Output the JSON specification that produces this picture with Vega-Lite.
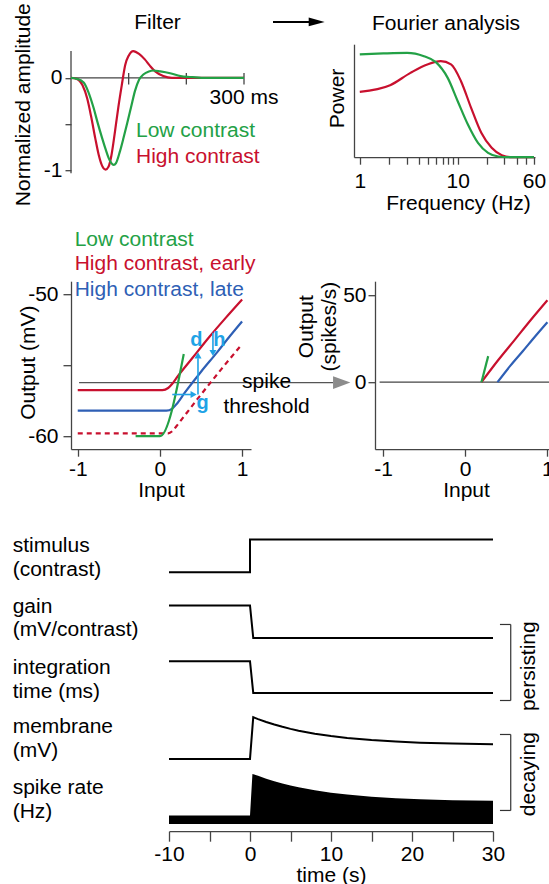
{
"$schema": "https://vega.github.io/schema/vega-lite/v6.json",
"background": "white",
"autosize": {"type": "pad"},
"padding": {"left": 12, "top": 2.2, "right": 0, "bottom": 0},
"bounds": "flush",
"spacing": 487,
"config": {
  "view": {"stroke": null},
  "font": "Liberation Sans",
  "axis": {"labelFont": "Liberation Sans", "titleFont": "Liberation Sans", "labelFontSize": 21, "titleFontSize": 21, "labelColor": "#000", "titleColor": "#000", "titleFontWeight": "normal", "domainColor": "#444", "tickColor": "#444", "domainWidth": 1.3, "tickWidth": 1.3, "grid": false, "labelFlush": false},
  "text": {"font": "Liberation Sans", "fontSize": 21, "color": "#000"},
  "line": {"strokeWidth": 2.2}
},
"vconcat": [
 {"bounds": "flush", "spacing": 237, "vconcat": [
  {"bounds": "flush", "spacing": 110, "hconcat": [
   {"width": 173, "height": 129, "layer": [
    {"data": {"values": [{}]}, "mark": {"type": "rule", "color": "#444", "strokeWidth": 1.3},
     "encoding": {"x": {"datum": 0, "type": "quantitative", "axis": null}, "x2": {"datum": 300}, "y": {"datum": 0, "type": "quantitative"}}},
    {"data": {"values": [{"t": 100}, {"t": 200}, {"t": 300}]}, "mark": {"type": "rule", "color": "#444", "strokeWidth": 1.3},
     "encoding": {"x": {"field": "t", "type": "quantitative", "axis": null}, "y": {"datum": 0.054, "type": "quantitative"}, "y2": {"datum": -0.071}}},
    {"data": {"values": [{}]}, "mark": {"type": "rule", "color": "#444", "strokeWidth": 1.3},
     "encoding": {"x": {"datum": 0, "type": "quantitative", "axis": null}, "y": {"datum": 0.29, "type": "quantitative"}, "y2": {"datum": -1.029}}},
    {"data": {"values": [
      {"t": 0, "amp": 0, "contrast": "High contrast"}, {"t": 10, "amp": -0.01, "contrast": "High contrast"}, {"t": 20, "amp": -0.08, "contrast": "High contrast"}, {"t": 28, "amp": -0.22, "contrast": "High contrast"}, {"t": 35, "amp": -0.42, "contrast": "High contrast"}, {"t": 42, "amp": -0.65, "contrast": "High contrast"}, {"t": 48, "amp": -0.83, "contrast": "High contrast"}, {"t": 54, "amp": -0.95, "contrast": "High contrast"}, {"t": 60, "amp": -0.99, "contrast": "High contrast"}, {"t": 65, "amp": -0.96, "contrast": "High contrast"}, {"t": 70, "amp": -0.84, "contrast": "High contrast"}, {"t": 74, "amp": -0.68, "contrast": "High contrast"}, {"t": 78, "amp": -0.5, "contrast": "High contrast"}, {"t": 82, "amp": -0.32, "contrast": "High contrast"}, {"t": 88, "amp": -0.08, "contrast": "High contrast"}, {"t": 94, "amp": 0.14, "contrast": "High contrast"}, {"t": 100, "amp": 0.24, "contrast": "High contrast"}, {"t": 108, "amp": 0.29, "contrast": "High contrast"}, {"t": 118, "amp": 0.26, "contrast": "High contrast"}, {"t": 128, "amp": 0.2, "contrast": "High contrast"}, {"t": 137, "amp": 0.13, "contrast": "High contrast"}, {"t": 146, "amp": 0.07, "contrast": "High contrast"}, {"t": 160, "amp": 0.02, "contrast": "High contrast"}, {"t": 175, "amp": 0, "contrast": "High contrast"}, {"t": 300, "amp": 0, "contrast": "High contrast"},
      {"t": 0, "amp": 0, "contrast": "Low contrast"}, {"t": 10, "amp": -0.01, "contrast": "Low contrast"}, {"t": 22, "amp": -0.05, "contrast": "Low contrast"}, {"t": 30, "amp": -0.15, "contrast": "Low contrast"}, {"t": 39, "amp": -0.32, "contrast": "Low contrast"}, {"t": 46, "amp": -0.48, "contrast": "Low contrast"}, {"t": 54, "amp": -0.65, "contrast": "Low contrast"}, {"t": 60, "amp": -0.77, "contrast": "Low contrast"}, {"t": 65, "amp": -0.86, "contrast": "Low contrast"}, {"t": 70, "amp": -0.92, "contrast": "Low contrast"}, {"t": 74, "amp": -0.94, "contrast": "Low contrast"}, {"t": 78, "amp": -0.92, "contrast": "Low contrast"}, {"t": 85, "amp": -0.79, "contrast": "Low contrast"}, {"t": 91, "amp": -0.65, "contrast": "Low contrast"}, {"t": 97, "amp": -0.5, "contrast": "Low contrast"}, {"t": 104, "amp": -0.32, "contrast": "Low contrast"}, {"t": 111, "amp": -0.14, "contrast": "Low contrast"}, {"t": 118, "amp": -0.02, "contrast": "Low contrast"}, {"t": 126, "amp": 0.04, "contrast": "Low contrast"}, {"t": 135, "amp": 0.07, "contrast": "Low contrast"}, {"t": 143, "amp": 0.08, "contrast": "Low contrast"}, {"t": 155, "amp": 0.07, "contrast": "Low contrast"}, {"t": 172, "amp": 0.05, "contrast": "Low contrast"}, {"t": 190, "amp": 0.02, "contrast": "Low contrast"}, {"t": 206, "amp": 0.01, "contrast": "Low contrast"}, {"t": 230, "amp": 0, "contrast": "Low contrast"}, {"t": 300, "amp": 0, "contrast": "Low contrast"}
     ]},
     "mark": {"type": "line", "interpolate": "monotone", "strokeWidth": 2.2},
     "encoding": {
      "x": {"field": "t", "type": "quantitative", "scale": {"domain": [0, 300], "nice": false, "zero": false}, "axis": null},
      "y": {"field": "amp", "type": "quantitative", "scale": {"domain": [-1.029, 0.364], "nice": false, "zero": false},
            "axis": {"values": [-1, -0.5, 0], "labelExpr": "datum.value === -0.5 ? '' : '' + datum.value", "domain": false, "tickSize": 6, "labelPadding": 3, "title": "Normalized amplitude", "titleX": -41.3, "titleY": 60, "titleBaseline": "alphabetic"}},
      "color": {"field": "contrast", "type": "nominal", "scale": {"domain": ["High contrast", "High contrast, early", "High contrast, late", "Low contrast"], "range": ["#c8102e", "#c8102e", "#2e5fb5", "#23a146"]}, "legend": null}
     }},
    {"data": {"values": [{}]}, "mark": {"type": "text", "color": "#23a146", "align": "left", "baseline": "middle"},
     "encoding": {"x": {"datum": 112.7, "type": "quantitative", "axis": null}, "y": {"datum": -0.575, "type": "quantitative"}, "text": {"value": "Low contrast"}}},
    {"data": {"values": [{}]}, "mark": {"type": "text", "color": "#c8102e", "align": "left", "baseline": "middle"},
     "encoding": {"x": {"datum": 112.7, "type": "quantitative", "axis": null}, "y": {"datum": -0.853, "type": "quantitative"}, "text": {"value": "High contrast"}}},
    {"data": {"values": [{}]}, "mark": {"type": "text", "align": "center", "baseline": "middle"},
     "encoding": {"x": {"datum": 300, "type": "quantitative", "axis": null}, "y": {"datum": -0.22, "type": "quantitative"}, "text": {"value": "300 ms"}}},
    {"data": {"values": [{}]}, "mark": {"type": "text", "align": "center", "baseline": "alphabetic"},
     "encoding": {"x": {"datum": 150, "type": "quantitative", "axis": null}, "y": {"datum": 0.523, "type": "quantitative"}, "text": {"value": "Filter"}}},
    {"data": {"values": [{}]}, "mark": {"type": "rule", "color": "#000", "strokeWidth": 2},
     "encoding": {"x": {"datum": 350.3, "type": "quantitative", "axis": null}, "x2": {"datum": 414}, "y": {"datum": 0.605, "type": "quantitative"}}},
    {"data": {"values": [{}]}, "mark": {"type": "point", "shape": "M1,0L-1,-0.55L-1,0.55Z", "filled": true, "color": "#000", "opacity": 1, "size": 256},
     "encoding": {"x": {"datum": 426, "type": "quantitative", "axis": null}, "y": {"datum": 0.605, "type": "quantitative"}}}
   ]},
   {"width": 181, "height": 113, "layer": [
    {"data": {"values": [
      {"f": 1, "power": 0.636, "contrast": "High contrast"}, {"f": 2.04, "power": 0.701, "contrast": "High contrast"}, {"f": 3.29, "power": 0.821, "contrast": "High contrast"}, {"f": 4.89, "power": 0.903, "contrast": "High contrast"}, {"f": 6.71, "power": 0.935, "contrast": "High contrast"}, {"f": 8.54, "power": 0.903, "contrast": "High contrast"}, {"f": 10.8, "power": 0.74, "contrast": "High contrast"}, {"f": 13.7, "power": 0.48, "contrast": "High contrast"}, {"f": 17.4, "power": 0.237, "contrast": "High contrast"}, {"f": 22.2, "power": 0.091, "contrast": "High contrast"}, {"f": 28.2, "power": 0.019, "contrast": "High contrast"}, {"f": 36, "power": 0, "contrast": "High contrast"}, {"f": 60, "power": 0, "contrast": "High contrast"},
      {"f": 1, "power": 1.0, "contrast": "Low contrast"}, {"f": 1.74, "power": 1.01, "contrast": "Low contrast"}, {"f": 3.04, "power": 1.016, "contrast": "Low contrast"}, {"f": 4.52, "power": 0.983, "contrast": "Low contrast"}, {"f": 5.98, "power": 0.925, "contrast": "Low contrast"}, {"f": 7.9, "power": 0.772, "contrast": "Low contrast"}, {"f": 10, "power": 0.545, "contrast": "Low contrast"}, {"f": 12.7, "power": 0.318, "contrast": "Low contrast"}, {"f": 16.1, "power": 0.139, "contrast": "Low contrast"}, {"f": 20.4, "power": 0.042, "contrast": "Low contrast"}, {"f": 25.9, "power": 0.007, "contrast": "Low contrast"}, {"f": 32, "power": 0, "contrast": "Low contrast"}, {"f": 60, "power": 0, "contrast": "Low contrast"}
     ]},
     "mark": {"type": "line", "interpolate": "monotone", "strokeWidth": 2.2},
     "encoding": {
      "x": {"field": "f", "type": "quantitative", "scale": {"type": "log", "domain": [0.873, 61.5], "nice": false},
            "axis": {"values": [1, 2, 3, 4, 5, 6, 7, 8, 9, 10, 20, 30, 40, 50, 60], "labelExpr": "(datum.value === 1 || datum.value === 10 || datum.value === 60) ? '' + datum.value : ''", "tickSize": 7, "labelPadding": 6, "title": "Frequency (Hz)", "titleX": 104, "titleY": 52, "titleBaseline": "alphabetic"}},
      "y": {"field": "power", "type": "quantitative", "scale": {"domain": [0, 1.1], "nice": false, "zero": false},
            "axis": {"ticks": false, "labels": false, "title": "Power", "titleX": -10, "titleY": 53.7, "titleBaseline": "alphabetic"}},
      "color": {"field": "contrast", "type": "nominal", "scale": {"domain": ["High contrast", "High contrast, early", "High contrast, late", "Low contrast"], "range": ["#c8102e", "#c8102e", "#2e5fb5", "#23a146"]}, "legend": null}
     }},
    {"data": {"values": [{}]}, "mark": {"type": "text", "align": "center", "baseline": "alphabetic"},
     "encoding": {"x": {"datum": 7.6, "type": "quantitative"}, "y": {"datum": 1.243, "type": "quantitative"}, "text": {"value": "Fourier analysis"}}}
   ]}
  ]},
  {"bounds": "flush", "spacing": 124, "hconcat": [
   {"width": 180, "height": 168, "layer": [
    {"data": {"values": [{}]}, "mark": {"type": "rule", "color": "#555", "strokeWidth": 1.3},
     "encoding": {"x": {"datum": -0.984, "type": "quantitative"}, "x2": {"datum": 2.106}, "y": {"datum": -56.22, "type": "quantitative"}}},
    {"data": {"values": [{}]}, "mark": {"type": "point", "shape": "M1,0L-1,-0.75L-1,0.75Z", "filled": true, "color": "#8c8c8c", "opacity": 1, "size": 299},
     "encoding": {"x": {"datum": 2.212, "type": "quantitative"}, "y": {"datum": -56.22, "type": "quantitative"}}},
    {"data": {"values": [
      {"input": -1, "mV": -59.8}, {"input": 0.1, "mV": -59.8}, {"input": 0.15, "mV": -59.65}, {"input": 0.2, "mV": -59.3}, {"input": 0.3, "mV": -58.55}, {"input": 0.5, "mV": -57.06}, {"input": 0.75, "mV": -55.25}, {"input": 1.0, "mV": -53.5}
     ]},
     "mark": {"type": "line", "interpolate": "monotone", "color": "#c8102e", "strokeWidth": 2.2, "strokeDash": [5, 4]},
     "encoding": {"x": {"field": "input", "type": "quantitative"}, "y": {"field": "mV", "type": "quantitative"}}},
    {"data": {"values": [
      {"input": -1, "mV": -56.75, "series": "High contrast, early"}, {"input": 0.03, "mV": -56.75, "series": "High contrast, early"}, {"input": 0.1, "mV": -56.6, "series": "High contrast, early"}, {"input": 0.15, "mV": -56.3, "series": "High contrast, early"}, {"input": 0.2, "mV": -55.9, "series": "High contrast, early"}, {"input": 0.4, "mV": -54.45, "series": "High contrast, early"}, {"input": 0.6, "mV": -53.0, "series": "High contrast, early"}, {"input": 0.8, "mV": -51.65, "series": "High contrast, early"}, {"input": 1.0, "mV": -50.35, "series": "High contrast, early"},
      {"input": -1, "mV": -58.2, "series": "High contrast, late"}, {"input": 0.08, "mV": -58.2, "series": "High contrast, late"}, {"input": 0.15, "mV": -58.05, "series": "High contrast, late"}, {"input": 0.2, "mV": -57.75, "series": "High contrast, late"}, {"input": 0.3, "mV": -56.95, "series": "High contrast, late"}, {"input": 0.5, "mV": -55.45, "series": "High contrast, late"}, {"input": 0.7, "mV": -54.05, "series": "High contrast, late"}, {"input": 0.85, "mV": -52.95, "series": "High contrast, late"}, {"input": 1.0, "mV": -51.9, "series": "High contrast, late"},
      {"input": -0.296, "mV": -60, "series": "Low contrast"}, {"input": 0, "mV": -60, "series": "Low contrast"}, {"input": 0.29, "mV": -54.2, "series": "Low contrast"}
     ]},
     "mark": {"type": "line", "interpolate": "monotone", "strokeWidth": 2.2},
     "encoding": {
      "x": {"field": "input", "type": "quantitative", "scale": {"domain": [-1.082, 1.108], "nice": false, "zero": false},
            "axis": {"values": [-1, 0, 1], "labelExpr": "'' + datum.value", "tickSize": 7, "labelPadding": 2, "title": "Input", "titleY": 47.3, "titleBaseline": "alphabetic"}},
      "y": {"field": "mV", "type": "quantitative", "scale": {"domain": [-60.92, -49.06], "nice": false, "zero": false},
            "axis": {"values": [-60, -55, -50], "labelExpr": "datum.value === -55 ? '' : '' + datum.value", "tickSize": 8, "labelPadding": 5, "title": "Output (mV)", "titleX": -36.3, "titleY": 81, "titleBaseline": "alphabetic"}},
      "color": {"field": "series", "type": "nominal", "scale": {"domain": ["High contrast", "High contrast, early", "High contrast, late", "Low contrast"], "range": ["#c8102e", "#c8102e", "#2e5fb5", "#23a146"]}, "legend": null}
     }},
    {"data": {"values": [{}]}, "mark": {"type": "rule", "color": "#1fa3e6", "strokeWidth": 1.6},
     "encoding": {"x": {"datum": 0.15, "type": "quantitative"}, "x2": {"datum": 0.41}, "y": {"datum": -57.06, "type": "quantitative"}}},
    {"data": {"values": [{}]}, "mark": {"type": "point", "shape": "triangle-right", "filled": true, "color": "#1fa3e6", "opacity": 1, "size": 50},
     "encoding": {"x": {"datum": 0.41, "type": "quantitative"}, "y": {"datum": -57.06, "type": "quantitative"}}},
    {"data": {"values": [{}]}, "mark": {"type": "rule", "color": "#1fa3e6", "strokeWidth": 1.6},
     "encoding": {"x": {"datum": 0.463, "type": "quantitative"}, "y": {"datum": -57.06, "type": "quantitative"}, "y2": {"datum": -54.5}}},
    {"data": {"values": [{}]}, "mark": {"type": "point", "shape": "triangle-up", "filled": true, "color": "#1fa3e6", "opacity": 1, "size": 50},
     "encoding": {"x": {"datum": 0.463, "type": "quantitative"}, "y": {"datum": -54.3, "type": "quantitative"}}},
    {"data": {"values": [{}]}, "mark": {"type": "rule", "color": "#1fa3e6", "strokeWidth": 1.6},
     "encoding": {"x": {"datum": 0.645, "type": "quantitative"}, "y": {"datum": -52.7, "type": "quantitative"}, "y2": {"datum": -53.95}}},
    {"data": {"values": [{}]}, "mark": {"type": "point", "shape": "triangle-down", "filled": true, "color": "#1fa3e6", "opacity": 1, "size": 50},
     "encoding": {"x": {"datum": 0.645, "type": "quantitative"}, "y": {"datum": -54.13, "type": "quantitative"}}},
    {"data": {"values": [{}]}, "mark": {"type": "text", "color": "#1fa3e6", "fontWeight": "bold", "fontSize": 20, "align": "center", "baseline": "middle"},
     "encoding": {"x": {"datum": 0.444, "type": "quantitative"}, "y": {"datum": -53.22, "type": "quantitative"}, "text": {"value": "d"}}},
    {"data": {"values": [{}]}, "mark": {"type": "text", "color": "#1fa3e6", "fontWeight": "bold", "fontSize": 20, "align": "center", "baseline": "middle"},
     "encoding": {"x": {"datum": 0.723, "type": "quantitative"}, "y": {"datum": -53.22, "type": "quantitative"}, "text": {"value": "h"}}},
    {"data": {"values": [{}]}, "mark": {"type": "text", "color": "#1fa3e6", "fontWeight": "bold", "fontSize": 20, "align": "center", "baseline": "middle"},
     "encoding": {"x": {"datum": 0.52, "type": "quantitative"}, "y": {"datum": -57.65, "type": "quantitative"}, "text": {"value": "g"}}},
    {"data": {"values": [{}]}, "mark": {"type": "text", "align": "center", "baseline": "middle", "lineHeight": 25},
     "encoding": {"x": {"datum": 1.298, "type": "quantitative"}, "y": {"datum": -56.2, "type": "quantitative"}, "text": {"value": ["spike", "threshold"]}}},
    {"data": {"values": [{}]}, "mark": {"type": "text", "color": "#23a146", "align": "left", "baseline": "middle"},
     "encoding": {"x": {"datum": -1.037, "type": "quantitative"}, "y": {"datum": -46.12, "type": "quantitative"}, "text": {"value": "Low contrast"}}},
    {"data": {"values": [{}]}, "mark": {"type": "text", "color": "#c8102e", "align": "left", "baseline": "middle"},
     "encoding": {"x": {"datum": -1.037, "type": "quantitative"}, "y": {"datum": -47.88, "type": "quantitative"}, "text": {"value": "High contrast, early"}}},
    {"data": {"values": [{}]}, "mark": {"type": "text", "color": "#2e5fb5", "align": "left", "baseline": "middle"},
     "encoding": {"x": {"datum": -1.037, "type": "quantitative"}, "y": {"datum": -49.65, "type": "quantitative"}, "text": {"value": "High contrast, late"}}}
   ]},
   {"width": 177, "height": 168, "layer": [
    {"data": {"values": [{}]}, "mark": {"type": "rule", "color": "#444", "strokeWidth": 1.3},
     "encoding": {"x": {"datum": -1.041, "type": "quantitative"}, "x2": {"datum": 1.056}, "y": {"datum": 0, "type": "quantitative"}}},
    {"data": {"values": [
      {"input": 0.198, "rate": 0, "series": "High contrast, early"}, {"input": 0.4, "rate": 12.6, "series": "High contrast, early"}, {"input": 0.6, "rate": 24.2, "series": "High contrast, early"}, {"input": 0.8, "rate": 35.9, "series": "High contrast, early"}, {"input": 1.0, "rate": 47.1, "series": "High contrast, early"},
      {"input": 0.393, "rate": 0, "series": "High contrast, late"}, {"input": 0.55, "rate": 9.5, "series": "High contrast, late"}, {"input": 0.7, "rate": 17.8, "series": "High contrast, late"}, {"input": 0.85, "rate": 26.3, "series": "High contrast, late"}, {"input": 1.0, "rate": 34.5, "series": "High contrast, late"},
      {"input": 0.198, "rate": 0, "series": "Low contrast"}, {"input": 0.28, "rate": 15, "series": "Low contrast"}
     ]},
     "mark": {"type": "line", "interpolate": "monotone", "strokeWidth": 2.2},
     "encoding": {
      "x": {"field": "input", "type": "quantitative", "scale": {"domain": [-1.097, 1.056], "nice": false, "zero": false},
            "axis": {"values": [-1, 0, 1], "labelExpr": "'' + datum.value", "tickSize": 7, "labelPadding": 2, "title": "Input", "titleX": 91, "titleY": 47.3, "titleBaseline": "alphabetic"}},
      "y": {"field": "rate", "type": "quantitative", "scale": {"domain": [-38.5, 58.05], "nice": false, "zero": false},
            "axis": {"values": [0, 50], "labelExpr": "'' + datum.value", "tickSize": 7, "labelPadding": 2, "title": ["Output", "(spikes/s)"], "titleX": -62, "titleY": 45, "titleBaseline": "alphabetic", "titleLineHeight": 23}},
      "color": {"field": "series", "type": "nominal", "scale": {"domain": ["High contrast", "High contrast, early", "High contrast, late", "Low contrast"], "range": ["#c8102e", "#c8102e", "#2e5fb5", "#23a146"]}, "legend": null}
     }}
   ]}
  ]}
 ]},
 {"bounds": "flush", "spacing": 97, "hconcat": [
  {"width": 1, "height": 1, "data": {"values": [{}]}, "mark": {"type": "point", "opacity": 0}},
  {"width": 324, "height": 300, "resolve": {"scale": {"y": "independent"}}, "layer": [
   {"data": {"values": [{"t": -10, "v": 0}, {"t": 0, "v": 0}, {"t": 0, "v": 1}, {"t": 30, "v": 1}]},
    "layer": [
     {"mark": {"type": "line", "color": "#000", "strokeWidth": 2},
      "encoding": {
       "x": {"field": "t", "type": "quantitative", "scale": {"domain": [-10, 30], "nice": false, "zero": false},
             "axis": {"values": [-10, -5, 0, 5, 10, 15, 20, 25, 30], "labelExpr": "datum.value % 10 === 0 ? '' + datum.value : ''", "tickSize": 10, "labelPadding": 2, "title": "time (s)", "titleY": 50, "titleBaseline": "alphabetic"}},
       "y": {"field": "v", "type": "quantitative", "scale": {"domain": [-7.92, 1.254], "nice": false, "zero": false}, "axis": null},
       "order": {"value": null}}},
     {"data": {"values": [{}]}, "mark": {"type": "text", "align": "left", "baseline": "alphabetic", "lineHeight": 23.5},
      "encoding": {"x": {"datum": -29.3, "type": "quantitative"}, "y": {"datum": 0.612, "type": "quantitative", "axis": null}, "text": {"value": ["stimulus", "(contrast)"]}}}
    ]},
   {"data": {"values": [{"t": -10, "v": 1}, {"t": 0, "v": 1}, {"t": 0.4, "v": 0}, {"t": 30, "v": 0}]},
    "layer": [
     {"mark": {"type": "line", "color": "#000", "strokeWidth": 2},
      "encoding": {
       "x": {"field": "t", "type": "quantitative", "scale": {"domain": [-10, 30], "nice": false, "zero": false}},
       "y": {"field": "v", "type": "quantitative", "scale": {"domain": [-5.966, 3.293], "nice": false, "zero": false}, "axis": null}}},
     {"data": {"values": [{}]}, "mark": {"type": "text", "align": "left", "baseline": "alphabetic", "lineHeight": 23.5},
      "encoding": {"x": {"datum": -29.3, "type": "quantitative"}, "y": {"datum": 0.772, "type": "quantitative", "axis": null}, "text": {"value": ["gain", "(mV/contrast)"]}}}
    ]},
   {"data": {"values": [{"t": -10, "v": 1}, {"t": 0, "v": 1}, {"t": 0.4, "v": 0}, {"t": 30, "v": 0}]},
    "layer": [
     {"mark": {"type": "line", "color": "#000", "strokeWidth": 2},
      "encoding": {
       "x": {"field": "t", "type": "quantitative", "scale": {"domain": [-10, 30], "nice": false, "zero": false}},
       "y": {"field": "v", "type": "quantitative", "scale": {"domain": [-4.363, 5.101], "nice": false, "zero": false}, "axis": null}}},
     {"data": {"values": [{}]}, "mark": {"type": "text", "align": "left", "baseline": "alphabetic", "lineHeight": 23.5},
      "encoding": {"x": {"datum": -29.3, "type": "quantitative"}, "y": {"datum": 0.59, "type": "quantitative", "axis": null}, "text": {"value": ["integration", "time (ms)"]}}},
     {"data": {"values": [{}]}, "mark": {"type": "rule", "color": "#333", "strokeWidth": 1.2},
      "encoding": {"x": {"datum": 30.86, "type": "quantitative"}, "x2": {"datum": 32.19}, "y": {"datum": 2.158, "type": "quantitative", "axis": null}}},
     {"data": {"values": [{}]}, "mark": {"type": "rule", "color": "#333", "strokeWidth": 1.2},
      "encoding": {"x": {"datum": 32.19, "type": "quantitative"}, "y": {"datum": 2.158, "type": "quantitative", "axis": null}, "y2": {"datum": -0.24}}},
     {"data": {"values": [{}]}, "mark": {"type": "rule", "color": "#333", "strokeWidth": 1.2},
      "encoding": {"x": {"datum": 30.86, "type": "quantitative"}, "x2": {"datum": 32.19}, "y": {"datum": -0.24, "type": "quantitative", "axis": null}}},
     {"data": {"values": [{}]}, "mark": {"type": "text", "align": "center", "baseline": "middle", "angle": 270},
      "encoding": {"x": {"datum": 34.48, "type": "quantitative"}, "y": {"datum": 0.842, "type": "quantitative", "axis": null}, "text": {"value": "persisting"}}}
    ]},
   {"data": {"values": [{"t": -10, "v": 0}, {"t": 0, "v": 0}, {"t": 0.4, "v": 1.0}, {"t": 1, "v": 0.954}, {"t": 2, "v": 0.885}, {"t": 3, "v": 0.823}, {"t": 4, "v": 0.769}, {"t": 5, "v": 0.72}, {"t": 6, "v": 0.676}, {"t": 8, "v": 0.604}, {"t": 10, "v": 0.546}, {"t": 12, "v": 0.501}, {"t": 15, "v": 0.45}, {"t": 18, "v": 0.414}, {"t": 21, "v": 0.389}, {"t": 25, "v": 0.367}, {"t": 30, "v": 0.351}]},
    "layer": [
     {"mark": {"type": "line", "color": "#000", "strokeWidth": 2},
      "encoding": {
       "x": {"field": "t", "type": "quantitative", "scale": {"domain": [-10, 30], "nice": false, "zero": false}},
       "y": {"field": "v", "type": "quantitative", "scale": {"domain": [-1.734, 5.46], "nice": false, "zero": false}, "axis": null}}},
     {"data": {"values": [{}]}, "mark": {"type": "text", "align": "left", "baseline": "alphabetic", "lineHeight": 23.5},
      "encoding": {"x": {"datum": -29.3, "type": "quantitative"}, "y": {"datum": 0.616, "type": "quantitative", "axis": null}, "text": {"value": ["membrane", "(mV)"]}}},
     {"data": {"values": [{}]}, "mark": {"type": "rule", "color": "#333", "strokeWidth": 1.2},
      "encoding": {"x": {"datum": 30.86, "type": "quantitative"}, "x2": {"datum": 32.19}, "y": {"datum": 0.585, "type": "quantitative", "axis": null}}},
     {"data": {"values": [{}]}, "mark": {"type": "rule", "color": "#333", "strokeWidth": 1.2},
      "encoding": {"x": {"datum": 32.19, "type": "quantitative"}, "y": {"datum": 0.585, "type": "quantitative", "axis": null}, "y2": {"datum": -1.237}}},
     {"data": {"values": [{}]}, "mark": {"type": "rule", "color": "#333", "strokeWidth": 1.2},
      "encoding": {"x": {"datum": 30.86, "type": "quantitative"}, "x2": {"datum": 32.19}, "y": {"datum": -1.237, "type": "quantitative", "axis": null}}},
     {"data": {"values": [{}]}, "mark": {"type": "text", "align": "center", "baseline": "middle", "angle": 270},
      "encoding": {"x": {"datum": 34.48, "type": "quantitative"}, "y": {"datum": -0.367, "type": "quantitative", "axis": null}, "text": {"value": "decaying"}}}
    ]},
   {"data": {"values": [{"t": -10, "r": 5}, {"t": 0, "r": 5}, {"t": 0.3, "r": 30}, {"t": 1, "r": 28.86}, {"t": 2, "r": 27.13}, {"t": 3, "r": 25.59}, {"t": 4, "r": 24.24}, {"t": 5, "r": 23.02}, {"t": 6, "r": 21.93}, {"t": 8, "r": 20.13}, {"t": 10, "r": 18.69}, {"t": 12, "r": 17.56}, {"t": 15, "r": 16.29}, {"t": 18, "r": 15.4}, {"t": 21, "r": 14.78}, {"t": 25, "r": 14.22}, {"t": 30, "r": 13.81}]},
    "layer": [
     {"mark": {"type": "area", "color": "#000"},
      "encoding": {
       "x": {"field": "t", "type": "quantitative", "scale": {"domain": [-10, 30], "nice": false, "zero": false}},
       "y": {"field": "r", "type": "quantitative", "scale": {"domain": [-4.379, 175.58], "nice": false, "zero": false}, "axis": null}}},
     {"data": {"values": [{}]}, "mark": {"type": "text", "align": "left", "baseline": "alphabetic", "lineHeight": 23.5},
      "encoding": {"x": {"datum": -29.3, "type": "quantitative"}, "y": {"datum": 17.82, "type": "quantitative", "axis": null}, "text": {"value": ["spike rate", "(Hz)"]}}}
    ]}
  ]}
 ]}
]
}
